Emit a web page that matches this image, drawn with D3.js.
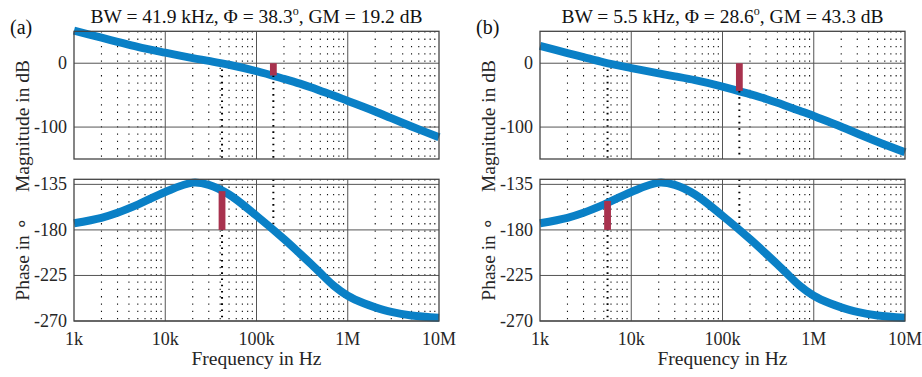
<!DOCTYPE html>
<html>
<head>
<meta charset="utf-8">
<script src="https://cdn.jsdelivr.net/npm/d3@7"></script>
<style>
  body { margin: 0; background: #fff; }
  svg { display: block; }
  text { font-family: "Liberation Serif", "Times New Roman", Times, serif; }
</style>
</head>
<body>
<div id="chart"></div>
<script>
// values
const freqHz = [1e3, 2e3, 3e3, 5e3, 1e4, 2e4, 3e4, 5e4, 1e5, 2e5, 3e5, 4e5, 5e5, 7e5, 1e6, 1.5e6, 2e6, 3e6, 5e6, 1e7];
const magA = [51, 40, 33.5, 25.5, 16.5, 8, 3.6, -2.4, -12.4, -24.5, -32, -38, -43, -50.5, -59, -68.5, -75.5, -86, -99, -116];
const magB = [27, 16, 9.5, 1.4, -7.6, -16, -20.5, -26.5, -36.5, -48.5, -56, -62, -67, -74.5, -82.5, -92.5, -99.5, -110, -123, -139.5];
const phaseA = [-173.4, -168, -163, -155, -142.5, -133.3, -135.5, -145, -166, -189, -203.5, -214, -222.5, -235, -245, -252.5, -256.5, -261, -264.5, -266.8];
const phaseB = [-173.4, -168, -163, -155, -142.5, -133.3, -135.5, -145, -166, -189, -203.5, -214, -222.5, -235, -245, -252.5, -256.5, -261, -264.5, -266.8];

const panelTags = ['(a)', '(b)'];
const bwText = ['41.9 kHz', '5.5 kHz'];
const pmValues = [38.3, 28.6];
const gmValues = [19.2, 43.3];
const gainCross = [41.9e3, 5.5e3];
const phaseCross = [153e3, 153e3];

const xTicks = [1e3, 1e4, 1e5, 1e6, 1e7];
const xTickLabels = ['1k', '10k', '100k', '1M', '10M'];
const magTicks = [0, -100];
const phaseTicks = [-135, -180, -225, -270];

const width = 922, height = 377;
const plotW = 365;
const magTop = 31.3, magH = 127.7;
const phTop = 179.3, phH = 141.7;
const panelLeft = [74, 540];
const serif = '"Liberation Serif", "Times New Roman", Times, serif';

const blue = '#0a80c6';
const red = '#a8324e';
const textCol = '#262626';

const svg = d3.select('#chart').append('svg')
  .attr('width', width)
  .attr('height', height)
  .attr('font-family', serif);

const x = d3.scaleLog().domain([1e3, 1e7]).range([0, plotW]);
const yMag = d3.scaleLinear().domain([-150, 50]).range([magH, 0]);
const yPh = d3.scaleLinear().domain([-270, -130]).range([phH, 0]);

const minorFreqs = x.ticks().filter(f => !xTicks.includes(f));

function drawAxes(g, y, h, ticks, withX) {
  // minor dotted grid
  g.append('g').selectAll('line').data(minorFreqs).join('line')
    .attr('x1', d => x(d)).attr('x2', d => x(d))
    .attr('y1', 0).attr('y2', h)
    .attr('stroke', '#111').attr('stroke-width', 1.1)
    .attr('stroke-dasharray', '1.3 6');
  // major grid
  g.append('g').selectAll('line').data(xTicks.slice(1, -1)).join('line')
    .attr('x1', d => x(d)).attr('x2', d => x(d))
    .attr('y1', 0).attr('y2', h)
    .attr('stroke', '#555').attr('stroke-width', 1);
  g.append('g').selectAll('line').data(ticks).join('line')
    .attr('x1', 0).attr('x2', plotW)
    .attr('y1', d => y(d)).attr('y2', d => y(d))
    .attr('stroke', '#555').attr('stroke-width', 1);

  g.append('g').selectAll('text').data(ticks).join('text')
    .attr('x', -7).attr('y', d => y(d))
    .attr('text-anchor', 'end').attr('dominant-baseline', 'central')
    .attr('font-family', serif)
    .attr('font-size', 18).attr('fill', textCol)
    .text(d => d);

  if (withX) {
    g.append('g').selectAll('text').data(xTicks).join('text')
      .attr('x', d => x(d)).attr('y', h + 24)
      .attr('text-anchor', 'middle')
      .attr('font-family', serif)
      .attr('font-size', 18).attr('fill', textCol)
      .text((d, i) => xTickLabels[i]);
  }
}

function box(g, h) {
  g.append('rect')
    .attr('x', 0).attr('y', 0).attr('width', plotW).attr('height', h)
    .attr('fill', 'none').attr('stroke', '#444').attr('stroke-width', 1.3);
}

function vDots(g, f, y0, y1) {
  g.append('line')
    .attr('x1', x(f)).attr('x2', x(f))
    .attr('y1', y0).attr('y2', y1)
    .attr('stroke', '#000').attr('stroke-width', 2)
    .attr('stroke-dasharray', '1.6 4.6');
}

function bar(g, f, y0, y1) {
  g.append('line')
    .attr('x1', x(f)).attr('x2', x(f))
    .attr('y1', y0).attr('y2', y1)
    .attr('stroke', red).attr('stroke-width', 6.8);
}

const mags = [magA, magB];
const phases = [phaseA, phaseB];

panelLeft.forEach((left, p) => {
  const panel = svg.append('g');

  // panel tag and title
  panel.append('text')
    .attr('x', left - 64).attr('y', 34)
    .attr('font-family', serif)
    .attr('font-size', 20).attr('fill', '#111')
    .text(panelTags[p]);

  const title = panel.append('text')
    .attr('x', left + plotW / 2).attr('y', 23)
    .attr('text-anchor', 'middle')
    .attr('font-family', serif)
    .attr('font-size', 19.5).attr('fill', '#111');
  title.append('tspan').text(`BW = ${bwText[p]}, Φ = ${pmValues[p]}`);
  title.append('tspan').attr('dy', -8).attr('font-size', 12).text('o');
  title.append('tspan').attr('dy', 8).text(`, GM = ${gmValues[p]} dB`);

  // magnitude axes
  const gm = panel.append('g').attr('transform', `translate(${left},${magTop})`);
  drawAxes(gm, yMag, magH, magTicks, false);
  vDots(gm, gainCross[p], yMag(0), magH);
  const magLine = d3.line()
    .x((d, i) => x(freqHz[i]))
    .y(d => yMag(d))
    .curve(d3.curveCatmullRom.alpha(0.5));
  gm.append('path')
    .datum(mags[p])
    .attr('d', magLine)
    .attr('fill', 'none').attr('stroke', blue).attr('stroke-width', 8);
  vDots(gm, phaseCross[p], yMag(-gmValues[p]), magH);
  bar(gm, phaseCross[p], yMag(0), yMag(-gmValues[p]));
  box(gm, magH);

  // phase axes
  const gp = panel.append('g').attr('transform', `translate(${left},${phTop})`);
  drawAxes(gp, yPh, phH, phaseTicks, true);
  vDots(gp, gainCross[p], 0, phH);
  vDots(gp, phaseCross[p], 0, yPh(-180));
  const phLine = d3.line()
    .x((d, i) => x(freqHz[i]))
    .y(d => yPh(d))
    .curve(d3.curveCatmullRom.alpha(0.5));
  gp.append('path')
    .datum(phases[p])
    .attr('d', phLine)
    .attr('fill', 'none').attr('stroke', blue).attr('stroke-width', 8);
  bar(gp, gainCross[p], yPh(-180), yPh(-180 + pmValues[p]));
  box(gp, phH);

  // axis labels
  panel.append('text')
    .attr('transform', `translate(${left - 45},126) rotate(-90)`)
    .attr('text-anchor', 'middle')
    .attr('font-family', serif)
    .attr('font-size', 19.5).attr('fill', textCol)
    .text('Magnitude in dB');
  panel.append('text')
    .attr('transform', `translate(${left - 45},259) rotate(-90)`)
    .attr('text-anchor', 'middle')
    .attr('font-family', serif)
    .attr('font-size', 19.5).attr('fill', textCol)
    .text('Phase in \u2218');
  panel.append('text')
    .attr('x', left + plotW / 2).attr('y', phTop + phH + 44)
    .attr('text-anchor', 'middle')
    .attr('font-family', serif)
    .attr('font-size', 19.5).attr('fill', textCol)
    .text('Frequency in Hz');
});
</script>
</body>
</html>
